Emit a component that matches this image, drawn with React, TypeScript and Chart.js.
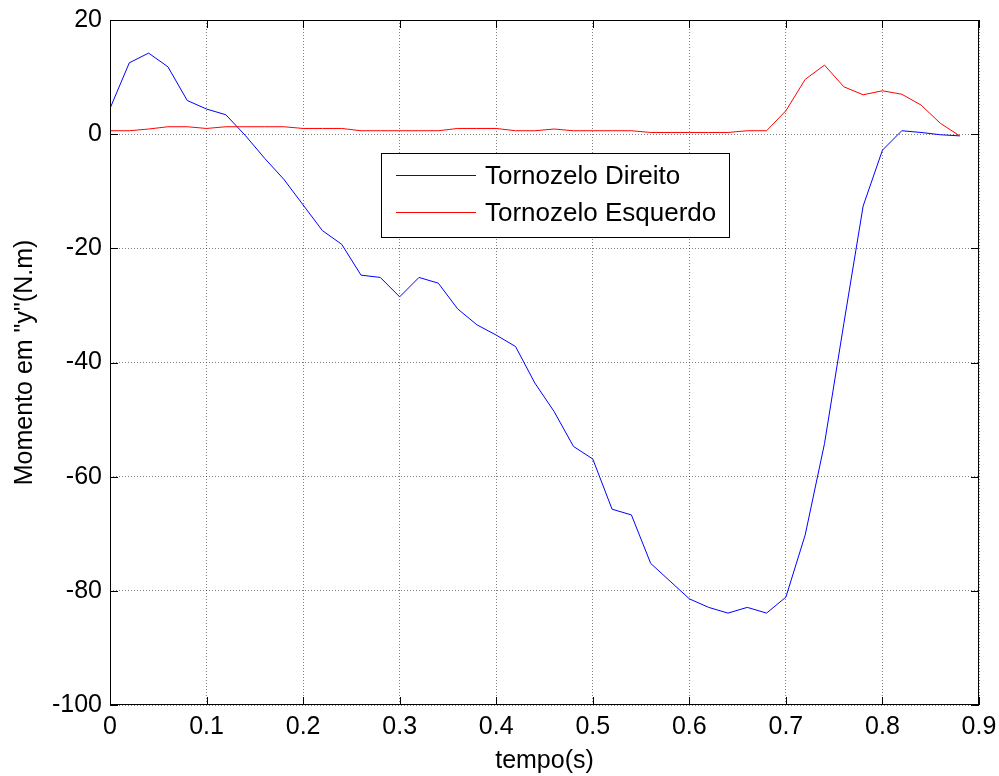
import React, { useEffect, useRef } from "react";
import { Chart, registerables } from "chart.js";

Chart.register(...registerables);

const times = [
  0, 0.02, 0.04, 0.06, 0.08, 0.1, 0.12, 0.14, 0.16, 0.18,
  0.2, 0.22, 0.24, 0.26, 0.28, 0.3, 0.32, 0.34, 0.36, 0.38,
  0.4, 0.42, 0.44, 0.46, 0.48, 0.5, 0.52, 0.54, 0.56, 0.58,
  0.6, 0.62, 0.64, 0.66, 0.68, 0.7, 0.72, 0.74, 0.76, 0.78,
  0.8, 0.82, 0.84, 0.86, 0.88,
];

const direito = [
  4.5, 12.5, 14.2, 11.8, 5.9, 4.4, 3.4, -0.2, -4.2, -7.9,
  -12.4, -16.9, -19.3, -24.7, -25.1, -28.5, -25.1, -26.1, -30.6, -33.4,
  -35.2, -37.2, -43.6, -48.6, -54.7, -56.9, -65.7, -66.7, -75.2, -78.3,
  -81.4, -82.9, -83.9, -82.9, -83.9, -81.1, -70.2, -54.2, -33.2, -12.6,
  -2.8, 0.6, 0.3, -0.1, -0.3,
];

const esquerdo = [
  0.6, 0.6, 0.9, 1.3, 1.3, 1.0, 1.3, 1.3, 1.3, 1.3,
  1.0, 1.0, 1.0, 0.6, 0.6, 0.6, 0.6, 0.6, 1.0, 1.0,
  1.0, 0.6, 0.6, 0.9, 0.6, 0.6, 0.6, 0.6, 0.3, 0.3,
  0.3, 0.3, 0.3, 0.6, 0.6, 4.1, 9.6, 12.1, 8.3, 6.9,
  7.6, 7.0, 5.1, 1.9, -0.3,
];

const xTicks = [0, 0.1, 0.2, 0.3, 0.4, 0.5, 0.6, 0.7, 0.8, 0.9];
const yTicks = [-100, -80, -60, -40, -20, 0, 20];
const seriesLabels = ["Tornozelo Direito", "Tornozelo Esquerdo"];
const seriesColors = ["#0000ff", "#ff0000"];
const xTitle = "tempo(s)";
const yTitle = 'Momento em "y"(N.m)';

const FONT = '"Liberation Sans", Arial, Helvetica, sans-serif';

const boxPlugin = {
  id: "matlabBox",
  afterDatasetsDraw(chart: any) {
    const { ctx, chartArea: a, scales } = chart;
    ctx.save();
    ctx.strokeStyle = "#000";
    ctx.lineWidth = 1;
    ctx.strokeRect(a.left + 0.5, a.top + 0.5, a.right - a.left - 1, a.bottom - a.top - 1);
    const tl = 8;
    ctx.beginPath();
    xTicks.forEach((v) => {
      const px = Math.round(scales.x.getPixelForValue(v)) + 0.5;
      ctx.moveTo(px, a.bottom);
      ctx.lineTo(px, a.bottom - tl);
      ctx.moveTo(px, a.top);
      ctx.lineTo(px, a.top + tl);
    });
    yTicks.forEach((v) => {
      const py = Math.round(scales.y.getPixelForValue(v)) + 0.5;
      ctx.moveTo(a.left, py);
      ctx.lineTo(a.left + tl, py);
      ctx.moveTo(a.right, py);
      ctx.lineTo(a.right - tl, py);
    });
    ctx.stroke();

    // legend
    const lx = 381, ly = 153, lw = 348, lh = 84;
    ctx.fillStyle = "#fff";
    ctx.fillRect(lx, ly, lw, lh);
    ctx.strokeStyle = "#000";
    ctx.strokeRect(lx + 0.5, ly + 0.5, lw, lh);
    ctx.font = `26px ${FONT}`;
    ctx.textBaseline = "middle";
    ctx.textAlign = "left";
    const rows = [175, 212];
    seriesLabels.forEach((lab, i) => {
      ctx.strokeStyle = seriesColors[i];
      ctx.beginPath();
      ctx.moveTo(396, rows[i] + 0.5);
      ctx.lineTo(476, rows[i] + 0.5);
      ctx.stroke();
      ctx.fillStyle = "#000";
      ctx.fillText(lab, 485, rows[i] + 2);
    });
    ctx.restore();
  },
};

export default function App() {
  const ref = useRef<HTMLCanvasElement | null>(null);
  useEffect(() => {
    if (!ref.current) return;
    const chart = new Chart(ref.current, {
      type: "line",
      data: {
        datasets: [
          {
            label: seriesLabels[0],
            data: times.map((t, i) => ({ x: t, y: direito[i] })),
            borderColor: seriesColors[0],
            borderWidth: 1,
            pointRadius: 0,
            tension: 0,
            fill: false,
            order: 1,
          },
          {
            label: seriesLabels[1],
            data: times.map((t, i) => ({ x: t, y: esquerdo[i] })),
            borderColor: seriesColors[1],
            borderWidth: 1,
            pointRadius: 0,
            tension: 0,
            fill: false,
            order: 0,
          },
        ],
      },
      options: {
        animation: false,
        responsive: false,
        devicePixelRatio: 1,
        layout: { padding: { left: 0, top: 20, right: 20, bottom: 0 } },
        plugins: { legend: { display: false }, tooltip: { enabled: false } },
        scales: {
          x: {
            type: "linear",
            min: 0,
            max: 0.9,
            afterBuildTicks: (s: any) => {
              s.ticks = xTicks.map((v) => ({ value: v }));
            },
            afterFit: (s: any) => {
              s.height = 71;
              s.paddingLeft = 0;
              s.paddingRight = 0;
              s.paddingTop = 0;
              s.paddingBottom = 0;
            },
            ticks: {
              color: "#000",
              font: { family: FONT, size: 25 },
              padding: 7,
              maxRotation: 0,
              autoSkip: false,
              callback: (v: any) => String(Number(Number(v).toFixed(1))),
            },
            grid: {
              color: "rgba(0,0,0,0.5)",
              lineWidth: 1,
              drawTicks: false,
            },
            border: { display: false, dash: [1, 2] },
            title: {
              display: true,
              text: xTitle,
              color: "#000",
              font: { family: FONT, size: 25 },
              padding: { top: 0, bottom: 0 },
            },
          },
          y: {
            type: "linear",
            min: -100,
            max: 20,
            afterBuildTicks: (s: any) => {
              s.ticks = yTicks.map((v) => ({ value: v }));
            },
            afterFit: (s: any) => {
              s.width = 110;
              s.paddingLeft = 0;
              s.paddingRight = 0;
              s.paddingTop = 0;
              s.paddingBottom = 0;
            },
            ticks: {
              color: "#000",
              font: { family: FONT, size: 25 },
              padding: 8,
              autoSkip: false,
            },
            grid: {
              color: "rgba(0,0,0,0.5)",
              lineWidth: 1,
              drawTicks: false,
            },
            border: { display: false, dash: [1, 2] },
            title: {
              display: true,
              text: yTitle,
              color: "#000",
              font: { family: FONT, size: 25 },
              padding: { top: 10, bottom: 0 },
            },
          },
        },
      },
      plugins: [boxPlugin],
    } as any);
    return () => chart.destroy();
  }, []);
  return (
    <div style={{ position: "absolute", left: 0, top: 0, width: 999, height: 776, background: "#fff" }}>
      <canvas ref={ref} width={999} height={776} style={{ width: 999, height: 776 }} />
    </div>
  );
}
